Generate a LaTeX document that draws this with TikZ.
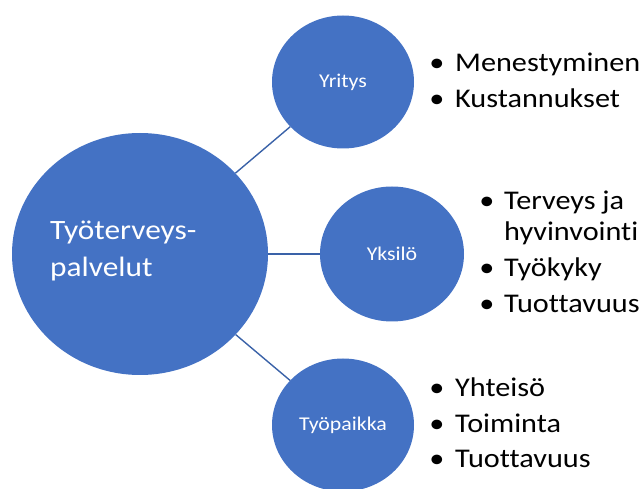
\documentclass[tikz,border=0pt]{standalone}
\usepackage{fontspec}
\setmainfont{Carlito}[FakeStretch=1.12,Ligatures={NoCommon}]
\usetikzlibrary{shapes.geometric}
\definecolor{circfill}{HTML}{4472C4}
\definecolor{linecol}{HTML}{3A62A8}
\tikzset{
  bubble/.style={ellipse, fill=circfill, inner sep=0pt, text=white},
  link/.style={draw=linecol, line width=1.4pt},
  bigtxt/.style={anchor=base west, inner sep=0pt, text=white, font=\fontsize{28}{34}\selectfont},
  smalltxt/.style={font=\fontsize{19.5}{24}\selectfont},
  item/.style={anchor=base west, inner sep=0pt, font=\fontsize{27}{32}\selectfont},
  bul/.style={anchor=base, inner sep=0pt, font=\fontsize{27}{32}\selectfont}
}
\begin{document}
\begin{tikzpicture}[x=1pt,y=-1pt]
\useasboundingbox (0,0) rectangle (641,489);
\node[bubble, minimum width=256pt, minimum height=242pt] (big) at (140,254) {};
\node[bubble, smalltxt, minimum width=142pt, minimum height=133pt] (yritys) at (343,82) {Yritys};
\node[bubble, smalltxt, minimum width=144pt, minimum height=135pt] (yksilo) at (392,254) {Yksilö};
\node[bubble, smalltxt, minimum width=142pt, minimum height=133pt] (tyopaikka) at (343,425) {Työpaikka};
\draw[link] (big) -- (yritys);
\draw[link] (big) -- (yksilo);
\draw[link] (big) -- (tyopaikka);
\node[bigtxt] (t1) at (50,240) {Työterveys-};
\node[bigtxt] (t2) at (50,277) {palvelut};
% Yritys list
\node[bul] (b1) at (437,72) {•};
\node[item] (i1) at (455,72) {Menestyminen};
\node[bul] (b2) at (437,108) {•};
\node[item] (i2) at (455,108) {Kustannukset};
% Yksilo list
\node[bul] (b3) at (487,210) {•};
\node[item] (i3) at (504,210) {Terveys ja};
\node[item] (i4) at (504,241) {hyvinvointi};
\node[bul] (b5) at (487,277) {•};
\node[item] (i5) at (504,277) {Työkyky};
\node[bul] (b6) at (487,313) {•};
\node[item] (i6) at (504,313) {Tuottavuus};
% Tyopaikka list
\node[bul] (b7) at (437,397) {•};
\node[item] (i7) at (455,397) {Yhteisö};
\node[bul] (b8) at (437,433) {•};
\node[item] (i8) at (455,433) {Toiminta};
\node[bul] (b9) at (437,468) {•};
\node[item] (i9) at (455,468) {Tuottavuus};
\end{tikzpicture}
\end{document}
